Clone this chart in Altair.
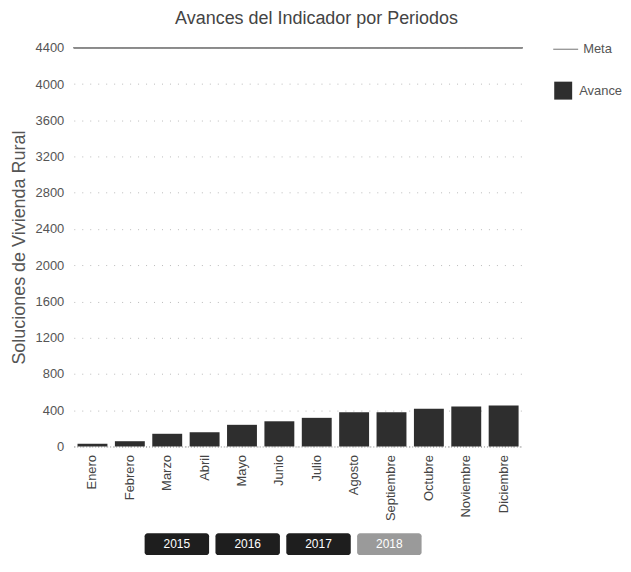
import altair as alt
import pandas as pd

meses = ["Enero", "Febrero", "Marzo", "Abril", "Mayo", "Junio", "Julio",
         "Agosto", "Septiembre", "Octubre", "Noviembre", "Diciembre"]
avance = [30, 58, 140, 157, 239, 278, 316, 377, 377, 415, 440, 451]
meta = [4400, 4400, 4400, 4400, 4400, 4400, 4400, 4400, 4400, 4400, 4400, 4400]
y_ticks = [0, 400, 800, 1200, 1600, 2000, 2400, 2800, 3200, 3600, 4000, 4400]
anios = ["2015", "2016", "2017", "2018"]
anio_activo = "2018"

FONT = "Liberation Sans"

df = pd.DataFrame({"Mes": meses, "Avance": avance, "Meta": meta})
df["serieA"] = "Avance"
df["serieM"] = "Meta"

x_enc = alt.X("Mes:N", sort=meses,
              scale=alt.Scale(paddingInner=0.2, paddingOuter=0.1),
              axis=alt.Axis(title=None, labelAngle=-90, labelFontSize=13,
                            labelColor="#444", labelFont=FONT,
                            domain=True, domainDash=[1, 2], domainColor="#888",
                            ticks=False, labelPadding=8, grid=False))

y_axis = alt.Axis(values=y_ticks, format="d", labelOverlap=False,
                  title="Soluciones de Vivienda Rural",
                  titleFontSize=18, titleFontWeight="normal",
                  titleColor="#555", titleFont=FONT,
                  titlePadding=7, labelFontSize=13, labelColor="#555",
                  labelFont=FONT, labelPadding=10,
                  ticks=False, domain=False, grid=True,
                  gridColor="#bbb", gridDash=[1, 7], gridWidth=1)
y_scale = alt.Scale(domain=[0, 4400], nice=False)

rule = alt.Chart(df).mark_rule(strokeWidth=1.2).encode(
    y=alt.Y("Meta:Q", scale=y_scale, axis=y_axis),
    color=alt.Color("serieM:N", scale=alt.Scale(range=["#8a8a8a"]),
                    legend=alt.Legend(title=None, symbolType="stroke", symbolSize=625,
                                      symbolStrokeWidth=1.2, labelFontSize=13,
                                      labelColor="#555", labelFont=FONT,
                                      labelOffset=4, padding=0, orient="none",
                                      legendX=480, legendY=-12)),
)

bars = alt.Chart(df).mark_bar().encode(
    x=x_enc,
    y=alt.Y("Avance:Q", scale=y_scale, axis=y_axis),
    fill=alt.Fill("serieA:N", scale=alt.Scale(range=["#2e2e2e"]),
                  legend=alt.Legend(title=None, symbolType="square", symbolSize=324,
                                    symbolStrokeWidth=0, labelFontSize=13,
                                    labelColor="#555", labelFont=FONT,
                                    labelOffset=7, padding=0, orient="none",
                                    legendX=482, legendY=34)),
)

main = alt.layer(rule, bars).properties(width=450, height=400)

btn_df = pd.DataFrame({"Anio": anios})
bx = alt.X("Anio:N", sort=anios,
           scale=alt.Scale(paddingInner=0.09, paddingOuter=1.0),
           axis=None)
rects = alt.Chart(btn_df).mark_rect(cornerRadius=3).encode(
    x=bx,
    color=alt.condition(f"datum.Anio == '{anio_activo}'", alt.value("#9a9a9a"),
                        alt.value("#1e1e1e")),
)
texts = alt.Chart(btn_df).mark_text(color="white", fontSize=12,
                                    font=FONT).encode(
    x=bx, text="Anio:N")
buttons = alt.layer(rects, texts).properties(width=420, height=22)

chart = alt.vconcat(main, buttons, spacing=12).properties(
    title=alt.TitleParams("Avances del Indicador por Periodos", fontSize=18,
                          fontWeight="normal", color="#444",
                          font=FONT, offset=8, anchor="middle"),
    padding={"left": 2, "top": 1, "right": 0, "bottom": 5},
).configure_view(stroke=None)

chart.save("out.html", embed_options={"renderer": "svg", "actions": False})
